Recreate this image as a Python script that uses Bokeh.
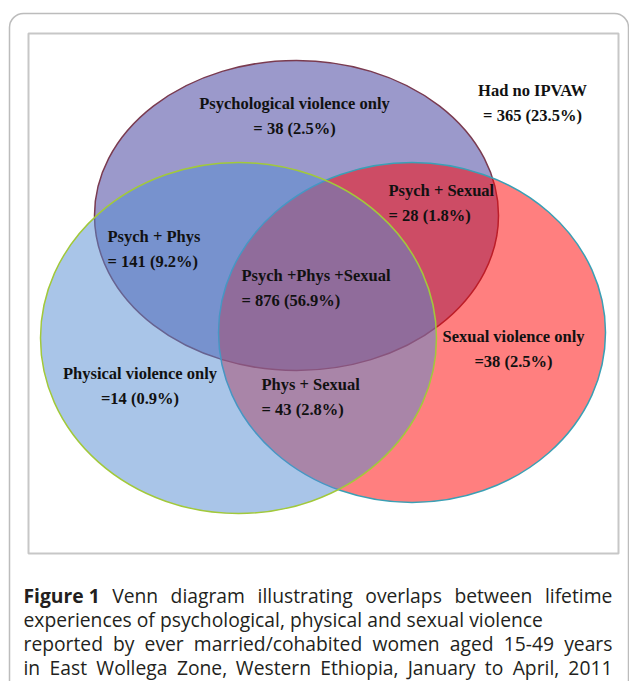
from bokeh.plotting import figure
from bokeh.models import Range1d, BoxAnnotation
from bokeh.core.properties import value
from bokeh.embed import file_html
from bokeh.resources import INLINE

# ---- data ----
region_names = ["Psychological violence only", "Had no IPVAW", "Psych + Sexual",
                "Psych + Phys", "Psych +Phys +Sexual", "Physical violence only",
                "Phys + Sexual", "Sexual violence only"]
region_counts = [38, 365, 28, 141, 876, 14, 43, 38]
region_percents = [2.5, 23.5, 1.8, 9.2, 56.9, 0.9, 2.8, 2.5]
count_prefix = ["= ", "= ", "= ", "= ", "= ", "=", "= ", "="]

set_names = ["Psychological violence", "Sexual violence", "Physical violence"]

caption_bold = "Figure 1"
caption_lines = [
    "Venn diagram illustrating overlaps between lifetime",
    "experiences of psychological, physical and sexual violence",
    "reported by ever married/cohabited women aged 15-49 years",
    "in East Wollega Zone, Western Ethiopia, January to April, 2011",
]
caption_justified = [True, False, True, True]

# ---- layout (page pixel coordinates) ----
W, H = 629, 681
p = figure(width=W, height=H, output_backend="svg", toolbar_location=None,
           x_range=Range1d(0, W), y_range=Range1d(H, 0),
           min_border=0, outline_line_color=None)
p.axis.visible = False
p.grid.visible = False
p.background_fill_color = "white"
p.border_fill_color = "white"

# outer rounded panel
p.add_layout(BoxAnnotation(left=9, right=628, top=13, bottom=720,
                           fill_alpha=0, line_color="#222222", line_width=1.5,
                           border_radius=14, level="underlay"))
# inner figure frame
p.add_layout(BoxAnnotation(left=28, right=618, top=33, bottom=553,
                           fill_color="white", fill_alpha=1,
                           line_color="#444444", line_width=2, level="underlay"))

# ellipses: psychological (bottom), sexual, physical (top)
ell_x = [296, 411.5, 238]
ell_y = [215, 332, 337.5]
ell_w = [404, 387, 396]
ell_h = [310, 340, 351]
ell_fill = ["#9B99CB", "#FF0000", "#538BD1"]
ell_alpha = [1.0, 0.5, 0.5]
ell_line = ["#7A3B50", "#3AA0B5", "#A2C93A"]
for i in range(3):
    p.ellipse(x=[ell_x[i]], y=[ell_y[i]], width=[ell_w[i]], height=[ell_h[i]],
              fill_color=ell_fill[i], fill_alpha=ell_alpha[i],
              line_color=ell_line[i], line_width=1.5, line_alpha=1.0)

# region labels
lab_x = [294, 532, 388, 107, 241, 139.5, 261, 513]
lab_y1 = [103, 90, 190, 236, 275, 373, 384, 336]
lab_gap = 25
lab_align = ["center", "center", "left", "left", "left", "center", "left", "center"]
line2 = [f"{count_prefix[i]}{region_counts[i]} ({region_percents[i]}%)"
         for i in range(len(region_names))]
for i in range(len(region_names)):
    p.text(x=[lab_x[i], lab_x[i]], y=[lab_y1[i], lab_y1[i] + lab_gap],
           text=[region_names[i], line2[i]],
           text_font=value("Liberation Serif"), text_font_style="bold",
           text_font_size="16.5px", text_color="#111111",
           text_align=lab_align[i], text_baseline="alphabetic")

# caption (justified by word placement using approximate Open Sans advance widths)
ADV = {" ": 532, ",": 502, ".": 545, "-": 659, "/": 752,
       "A": 1296, "B": 1327, "C": 1292, "D": 1493, "E": 1139, "F": 1057, "G": 1491,
       "H": 1511, "I": 571, "J": 547, "K": 1257, "L": 1073, "M": 1849, "N": 1544,
       "O": 1595, "P": 1233, "Q": 1595, "R": 1266, "S": 1104, "T": 1114, "U": 1511,
       "V": 1214, "W": 1880, "X": 1165, "Y": 1147, "Z": 1122,
       "a": 1139, "b": 1255, "c": 975, "d": 1255, "e": 1149, "f": 694, "g": 1122,
       "h": 1257, "i": 518, "j": 518, "k": 1075, "l": 518, "m": 1905, "n": 1257,
       "o": 1237, "p": 1255, "q": 1255, "r": 836, "s": 977, "t": 723, "u": 1257,
       "v": 1026, "w": 1593, "x": 1073, "y": 1028, "z": 977}
CAP_SIZE = 19.3
CAP_LEFT, CAP_RIGHT = 23, 612
cap_y = [595, 619, 643, 667]


def tw(s):
    return sum(ADV.get(ch, 1171) for ch in s) / 2048 * CAP_SIZE


bold_w = 77 * CAP_SIZE / 19.5
p.text(x=[CAP_LEFT], y=[cap_y[0]], text=[caption_bold], text_font=value("Open Sans"),
       text_font_style="bold", text_font_size=f"{CAP_SIZE}px", text_color="#231f20",
       text_baseline="alphabetic")

wx, wy, wt = [], [], []
for li, line in enumerate(caption_lines):
    words = line.split(" ")
    widths = [tw(w) for w in words]
    if li == 0:
        start = CAP_LEFT + bold_w
        n_gaps = len(words)
    else:
        start = CAP_LEFT
        n_gaps = len(words) - 1
    if caption_justified[li]:
        gap = (CAP_RIGHT - start - sum(widths)) / n_gaps
    else:
        gap = tw(" ")
    x = start + (gap if li == 0 else 0)
    for w, ww in zip(words, widths):
        wx.append(x)
        wy.append(cap_y[li])
        wt.append(w)
        x += ww + gap
p.text(x=wx, y=wy, text=wt, text_font=value("Open Sans"),
       text_font_size=f"{CAP_SIZE}px", text_color="#231f20",
       text_baseline="alphabetic")

open("out.html", "w").write(file_html(p, INLINE))
